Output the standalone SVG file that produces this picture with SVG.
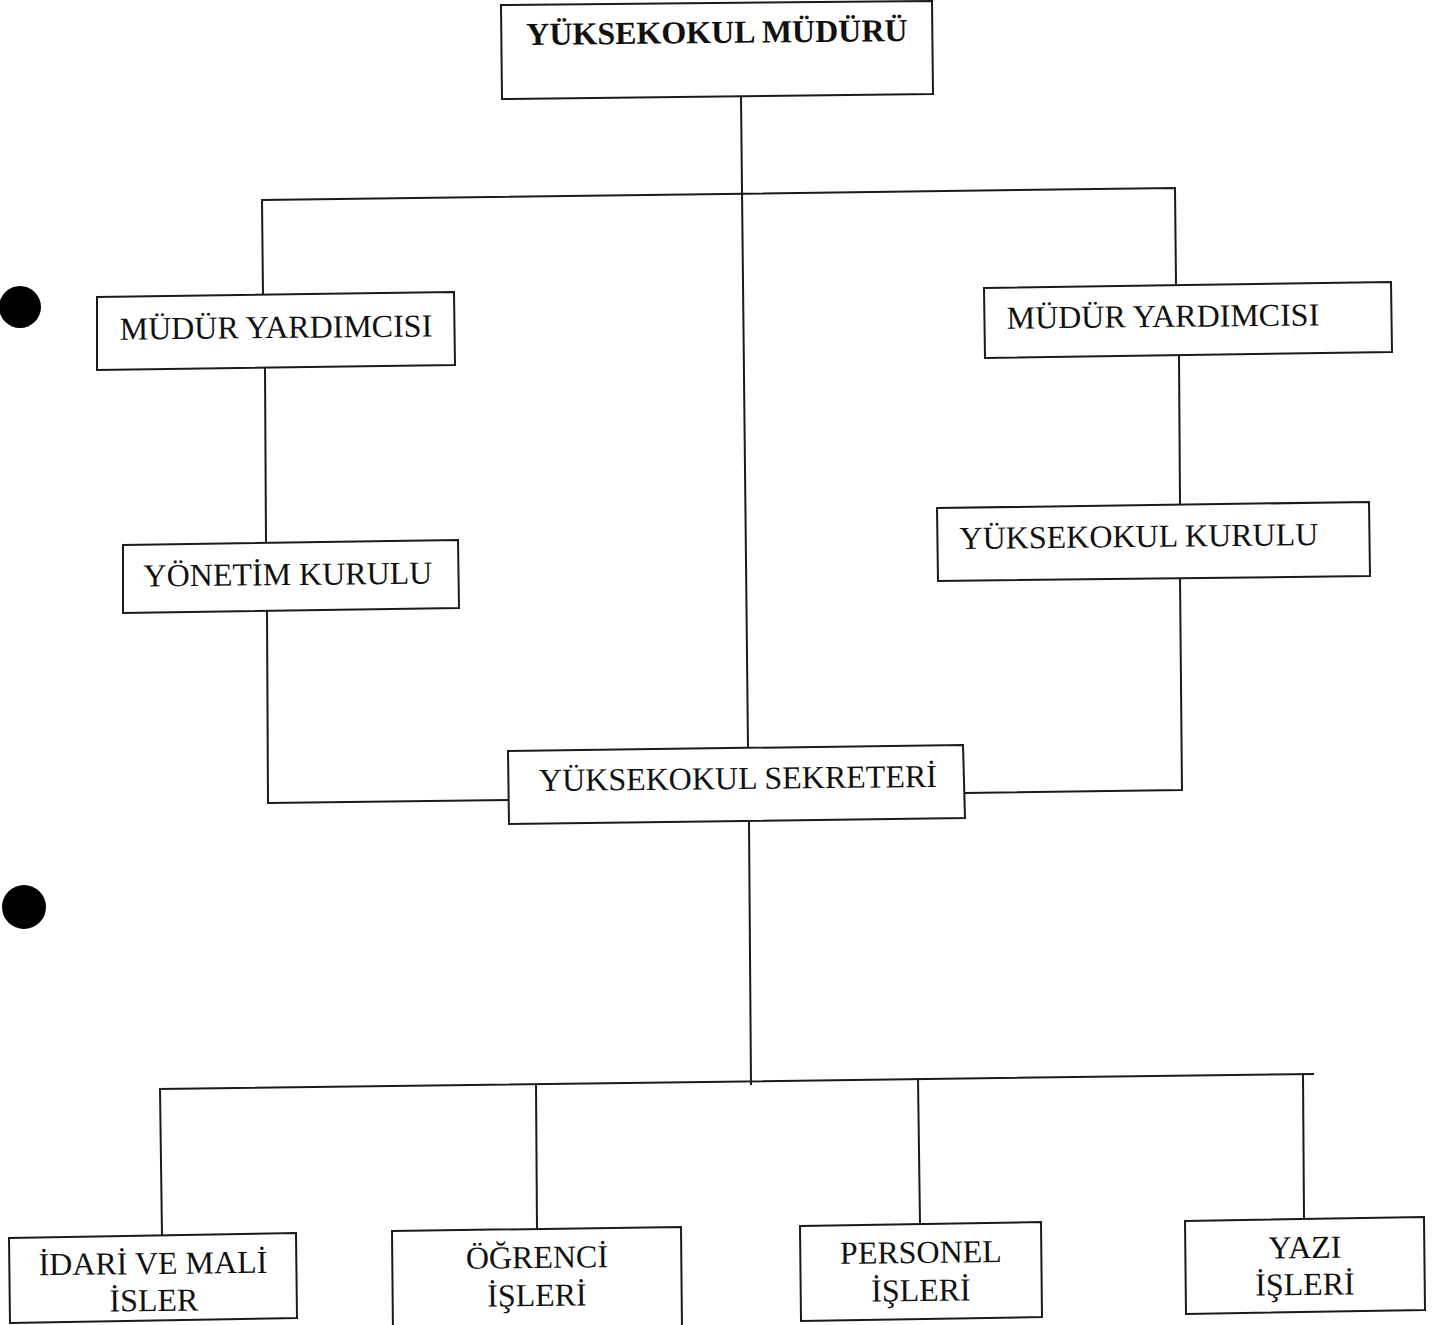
<svg xmlns="http://www.w3.org/2000/svg" width="1445" height="1325" viewBox="0 0 1445 1325">
<style>
.box{fill:#fff;stroke:#1a1a1a;stroke-width:2}
.ln{fill:none;stroke:#1a1a1a;stroke-width:2}
.t{font-family:"Liberation Serif","Times New Roman",serif;font-size:32px;fill:#111;text-anchor:middle}
.b{font-weight:bold}
.dot{fill:#000}
</style>
<rect width="1445" height="1325" fill="#fff"/>
<circle class="dot" cx="20" cy="307" r="21"/>
<circle class="dot" cx="24" cy="907" r="22"/>
<g id="connectors">
<polyline class="ln" points="741,96 748,748"/>
<polyline class="ln" points="263,295 262,200 1175,188 1176,284"/>
<polyline class="ln" points="265,368 266,543"/>
<polyline class="ln" points="1179,355 1180,505"/>
<polyline class="ln" points="267,611 268,803 509,800"/>
<polyline class="ln" points="1180,577 1182,790 965,793"/>
<polyline class="ln" points="749,822 751,1085"/>
<polyline class="ln" points="162,1236 160,1089 1314,1074"/>
<polyline class="ln" points="536,1083 537,1230"/>
<polyline class="ln" points="918,1078 920,1224"/>
<polyline class="ln" points="1303,1074 1304,1220"/>
</g>
<g id="mudur">
<polygon class="box" points="501,5 932,1 933,94 502,99"/>
<text class="t b" x="717" y="43" transform="rotate(-0.6 717 43)">YÜKSEKOKUL MÜDÜRÜ</text>
</g>
<g id="yardimci-sol">
<polygon class="box" points="97,297 454,292 455,365 97,370"/>
<text class="t" x="276" y="338" transform="rotate(-0.6 276 338)">MÜDÜR YARDIMCISI</text>
</g>
<g id="yardimci-sag">
<polygon class="box" points="984,288 1391,282 1392,352 985,358"/>
<text class="t" x="1163" y="327" transform="rotate(-0.6 1163 327)">MÜDÜR YARDIMCISI</text>
</g>
<g id="yonetim">
<polygon class="box" points="123,545 458,540 459,608 123,613"/>
<text class="t" x="288" y="585" transform="rotate(-0.6 288 585)">YÖNETİM KURULU</text>
</g>
<g id="kurul">
<polygon class="box" points="937,508 1369,502 1370,576 938,581"/>
<text class="t" x="1139" y="547" transform="rotate(-0.6 1139 547)">YÜKSEKOKUL KURULU</text>
</g>
<g id="sekreter">
<polygon class="box" points="508,751 963,745 965,818 509,824"/>
<text class="t" x="738" y="789" transform="rotate(-0.6 738 789)">YÜKSEKOKUL SEKRETERİ</text>
</g>
<g id="idari">
<polygon class="box" points="9,1238 296,1233 297,1318 10,1323"/>
<text class="t" x="153" y="1274" transform="rotate(-0.6 153 1274)">İDARİ VE MALİ</text>
<text class="t" x="154" y="1311" transform="rotate(-0.6 154 1311)">İSLER</text>
</g>
<g id="ogrenci">
<polygon class="box" points="392,1231 681,1227 682,1330 393,1334"/>
<text class="t" x="537" y="1268" transform="rotate(-0.6 537 1268)">ÖĞRENCİ</text>
<text class="t" x="537" y="1306" transform="rotate(-0.6 537 1306)">İŞLERİ</text>
</g>
<g id="personel">
<polygon class="box" points="800,1226 1041,1222 1042,1317 801,1321"/>
<text class="t" x="921" y="1263" transform="rotate(-0.6 921 1263)">PERSONEL</text>
<text class="t" x="921" y="1301" transform="rotate(-0.6 921 1301)">İŞLERİ</text>
</g>
<g id="yazi">
<polygon class="box" points="1185,1221 1424,1217 1425,1310 1186,1314"/>
<text class="t" x="1305" y="1258" transform="rotate(-0.6 1305 1258)">YAZI</text>
<text class="t" x="1305" y="1295" transform="rotate(-0.6 1305 1295)">İŞLERİ</text>
</g>
</svg>
